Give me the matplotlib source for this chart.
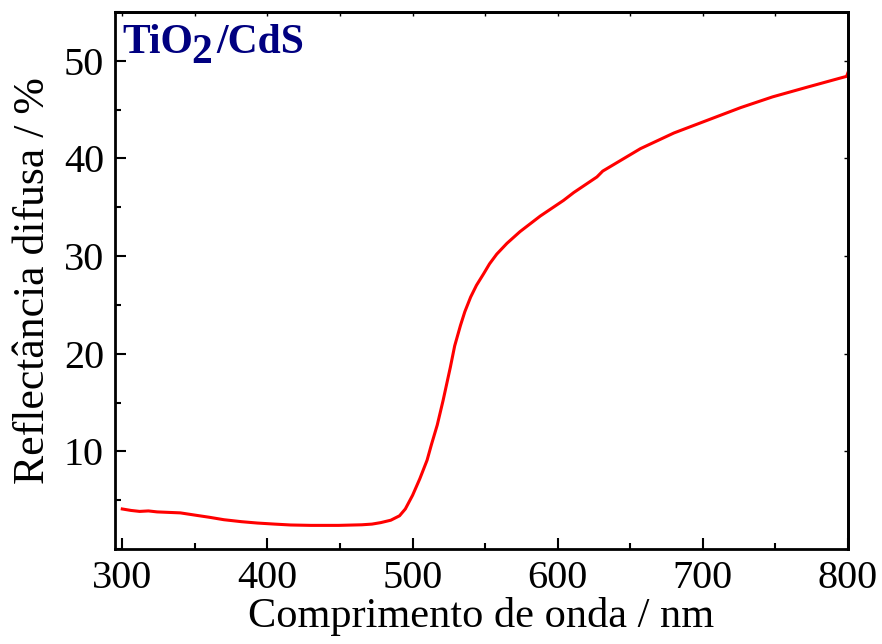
import numpy as np
import matplotlib.pyplot as plt
from matplotlib.ticker import MultipleLocator

plt.rcParams['font.family'] = ['Liberation Serif', 'DejaVu Serif']

# Diffuse reflectance of TiO2/CdS
wavelength = [300, 306, 312, 318, 324, 332, 340, 351, 360, 370, 382, 393, 405, 416,
              430, 449, 465, 472, 478, 485, 491, 495, 500, 505, 510, 513, 517, 521, 526,
              529, 533, 536, 540, 544, 549, 553, 558, 565, 574, 588, 604, 611, 627, 631,
              657, 680, 703, 726, 748, 772, 794, 799, 800]
reflectance = [4.1, 3.95, 3.85, 3.9, 3.8, 3.75, 3.7, 3.45, 3.25, 3.0, 2.8, 2.66, 2.55, 2.46,
               2.42, 2.42, 2.48, 2.55, 2.7, 2.95, 3.4, 4.1, 5.5, 7.2, 9.1, 10.7, 12.7, 15.2,
               18.6, 20.8, 22.9, 24.3, 25.8, 27.0, 28.2, 29.2, 30.2, 31.3, 32.5, 34.1, 35.7,
               36.5, 38.1, 38.7, 41.0, 42.6, 43.9, 45.2, 46.3, 47.3, 48.2, 48.4, 48.8]

fig = plt.figure(figsize=(8.82, 6.44), dpi=100)
ax = fig.add_axes([0.1304, 0.1475, 0.8311, 0.834])

ax.plot(wavelength, reflectance, color='#ff0000', lw=2.2)

ax.set_xlim(295, 800)
ax.set_ylim(0, 55)
ax.xaxis.set_major_locator(MultipleLocator(100))
ax.xaxis.set_minor_locator(MultipleLocator(50))
ax.yaxis.set_major_locator(MultipleLocator(10))
ax.yaxis.set_minor_locator(MultipleLocator(5))
ax.set_yticks([10, 20, 30, 40, 50])

ax.tick_params(which='major', direction='in', length=8, width=1.5, labelsize=29, pad=8)
ax.tick_params(which='minor', direction='in', length=4, width=1.5)
ax.tick_params(axis='x', which='both', top=False)
ax.tick_params(axis='y', which='both', right=False)
# small ticks on the top and right frame
tx = ax.secondary_xaxis('top')
tx.xaxis.set_major_locator(MultipleLocator(50))
tx.tick_params(direction='in', length=3, width=1, labeltop=False)
ty = ax.secondary_yaxis('right')
ty.yaxis.set_major_locator(MultipleLocator(10))
ty.tick_params(direction='in', length=3, width=1, labelright=False)
for s in ax.spines.values():
    s.set_linewidth(2)
tx.spines['top'].set_linewidth(2)
ty.spines['right'].set_linewidth(2)

ax.set_xlabel('Comprimento de onda / nm', fontsize=30.5, labelpad=0)
ax.set_ylabel('Reflectância difusa / %', fontsize=31.5, labelpad=8)

navy = '#000080'
ax.text(0.0095, 0.9236, 'TiO', transform=ax.transAxes, fontsize=30, fontweight='bold',
        color=navy, va='baseline', ha='left')
ax.text(0.1045, 0.905, '2', transform=ax.transAxes, fontsize=30, fontweight='bold',
        color=navy, va='baseline', ha='left')
ax.text(0.139, 0.9236, '/CdS', transform=ax.transAxes, fontsize=30, fontweight='bold',
        color=navy, va='baseline', ha='left')

fig.savefig('out.png', dpi=100)
